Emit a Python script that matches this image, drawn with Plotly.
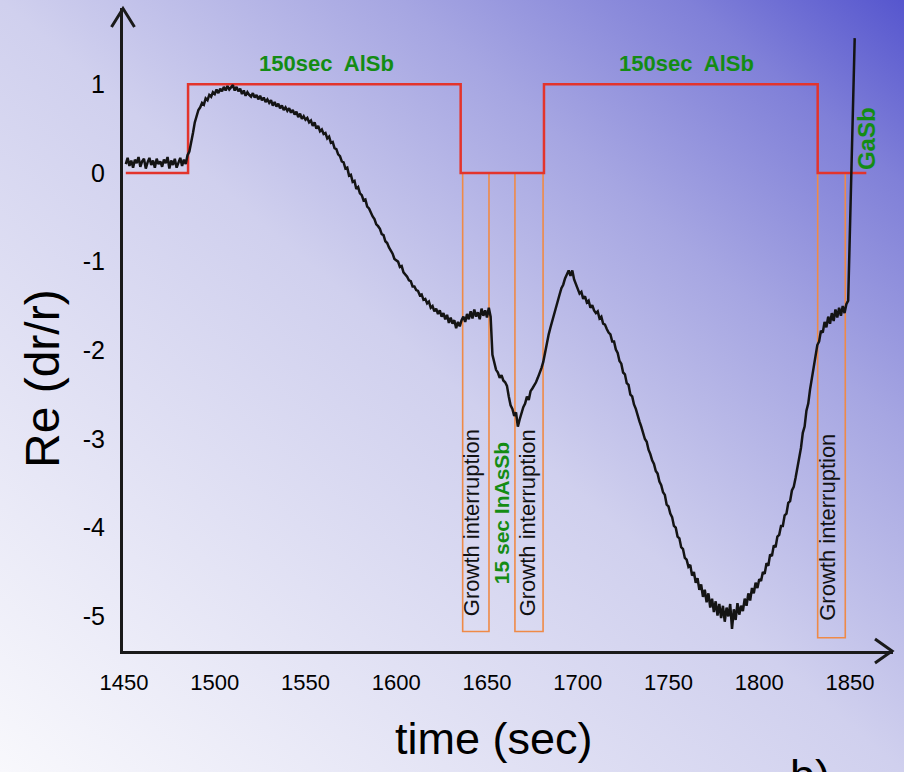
import base64
import plotly.graph_objects as go

# ---------------- data ----------------
# Reflectance-difference signal Re(dr/r), 1 s sampling; each phase lists (start time, values)
t_buffer = 1451
re_buffer = [0.10, 0.17, 0.08, 0.14, 0.06, 0.15, 0.11, 0.18, 0.07, 0.13,
             0.16, 0.05, 0.12, 0.17, 0.09, 0.14, 0.06, 0.16, 0.10, 0.13,
             0.07, 0.15, 0.11, 0.18, 0.05, 0.14, 0.09, 0.16, 0.06, 0.12]
t_alsb1 = 1481
re_alsb1 = [0.17, 0.08, 0.15, 0.10, 0.20, 0.24, 0.33, 0.45, 0.57, 0.64,
            0.71, 0.74, 0.79, 0.77, 0.84, 0.82, 0.88, 0.86, 0.91, 0.89,
            0.94, 0.90, 0.95, 0.92, 0.97, 0.93, 0.98, 0.94, 0.96, 0.99,
            0.93, 0.97, 0.92, 0.95, 0.89, 0.93, 0.87, 0.91, 0.88, 0.86,
            0.90, 0.85, 0.88, 0.83, 0.87, 0.82, 0.85, 0.80, 0.83, 0.79,
            0.82, 0.76, 0.80, 0.75, 0.78, 0.73, 0.76, 0.71, 0.74, 0.70,
            0.73, 0.68, 0.71, 0.66, 0.69, 0.63, 0.67, 0.61, 0.64, 0.60,
            0.62, 0.57, 0.59, 0.53, 0.57, 0.50, 0.53, 0.47, 0.49, 0.44,
            0.45, 0.39, 0.41, 0.34, 0.35, 0.28, 0.27, 0.21, 0.19, 0.13,
            0.12, 0.05, 0.06, -0.03, -0.02, -0.10, -0.09, -0.18, -0.16, -0.23,
            -0.25, -0.31, -0.30, -0.38, -0.40, -0.45, -0.49, -0.52, -0.58, -0.60,
            -0.63, -0.69, -0.70, -0.77, -0.79, -0.84, -0.88, -0.91, -0.97, -0.99,
            -1.00, -1.06, -1.05, -1.12, -1.14, -1.17, -1.21, -1.22, -1.28, -1.28,
            -1.32, -1.33, -1.38, -1.37, -1.43, -1.42, -1.47, -1.45, -1.52, -1.50,
            -1.56, -1.53, -1.59, -1.55, -1.62, -1.58, -1.65, -1.60, -1.69, -1.63,
            -1.70, -1.66, -1.75, -1.68, -1.73, -1.66]
t_gi1 = 1637
re_gi1 = [-1.62, -1.68, -1.59, -1.65,
          -1.56, -1.64, -1.54, -1.62, -1.57, -1.65, -1.53, -1.61, -1.55, -1.63,
          -1.52, -1.62]
t_inassb = 1653
re_inassb = [-2.05, -2.15, -2.22, -2.25, -2.31, -2.28, -2.34, -2.36,
             -2.40, -2.52, -2.62, -2.66, -2.74]
t_gi2 = 1666
re_gi2 = [-2.70, -2.86, -2.78, -2.70, -2.64,
          -2.60, -2.52, -2.56, -2.46, -2.43, -2.40, -2.36, -2.31, -2.26, -2.20,
          -2.13]
t_alsb2 = 1682
re_alsb2 = [-2.02, -1.90, -1.82, -1.74, -1.66, -1.60, -1.52, -1.44, -1.37,
            -1.30, -1.26, -1.19, -1.14, -1.10, -1.16, -1.10, -1.20, -1.26, -1.32,
            -1.36, -1.34, -1.42, -1.39, -1.46, -1.44, -1.52, -1.49, -1.55, -1.58,
            -1.56, -1.64, -1.62, -1.70, -1.71, -1.76, -1.80, -1.82, -1.90, -1.90,
            -1.99, -2.03, -2.12, -2.15, -2.25, -2.27, -2.37, -2.39, -2.50, -2.52,
            -2.61, -2.66, -2.74, -2.80, -2.86, -2.92, -3.00, -3.03, -3.12, -3.17,
            -3.24, -3.28, -3.36, -3.39, -3.48, -3.52, -3.60, -3.63, -3.74, -3.76,
            -3.84, -3.88, -3.98, -4.00, -4.10, -4.12, -4.22, -4.24, -4.34, -4.36,
            -4.44, -4.42, -4.54, -4.50, -4.62, -4.57, -4.70, -4.64, -4.78, -4.70,
            -4.84, -4.74, -4.90, -4.80, -4.95, -4.83, -4.99, -4.86, -5.02, -4.88,
            -5.06, -4.90, -5.00, -4.86, -5.14, -4.92, -5.04, -4.85, -4.98, -4.88,
            -4.94, -4.80, -4.88, -4.74, -4.82, -4.68, -4.74, -4.62, -4.68, -4.58,
            -4.60, -4.50, -4.52, -4.40, -4.43, -4.30, -4.32, -4.20, -4.22, -4.10,
            -4.08, -3.98, -3.98, -3.86, -3.84, -3.72, -3.70, -3.58, -3.54, -3.44,
            -3.33, -3.18, -3.10, -2.93, -2.86, -2.68, -2.60, -2.44, -2.32, -2.16,
            -2.06, -1.94]
t_gi3 = 1833
re_gi3 = [-1.90, -1.78, -1.80, -1.68, -1.74, -1.62, -1.70, -1.58,
          -1.67, -1.54, -1.63, -1.52, -1.61, -1.50, -1.58, -1.48, -1.44]
# GaSb onset (fast rise)
t_gasb = [1850, 1851, 1852, 1852.6]
re_gasb = [-0.55, 0.20, 1.00, 1.52]

# AlSb shutter (step signal)
shutter_t = [1451, 1485.3, 1635.5, 1681.4, 1832.2, 1859]
shutter_v = [0, 1, 0, 1, 0, 0]

# growth interruptions (start, end, bottom)
gi_start = [1636.6, 1665.4, 1832.2]
gi_end = [1651.1, 1680.9, 1847.4]
gi_bottom = [-5.17, -5.17, -5.24]

x_ticks = [1450, 1500, 1550, 1600, 1650, 1700, 1750, 1800, 1850]
y_ticks = [1, 0, -1, -2, -3, -4, -5]

# ---------------- layout geometry ----------------
W, H = 904, 772
PL, PR, PT, PB = 123, 893, 8, 651
XR = [1449.45, 1873.7]
YR = [-5.39, 1.86]


def px(x):
    return (x - PL) / (PR - PL)


def py(y):
    return (PB - y) / (PB - PT)


SANS = "Liberation Sans, Arial, sans-serif"
GREEN = "#148c14"
ORANGE = "#ef8a47"
RED = "#e3342c"

times, values = [], []
for t0, seg in [(t_buffer, re_buffer), (t_alsb1, re_alsb1), (t_gi1, re_gi1), (t_inassb, re_inassb),
                (t_gi2, re_gi2), (t_alsb2, re_alsb2), (t_gi3, re_gi3)]:
    times += [t0 + k for k in range(len(seg))]
    values += seg
times += t_gasb
values += re_gasb

fig = go.Figure()
fig.add_trace(go.Scatter(x=shutter_t, y=shutter_v, mode="lines", line=dict(color=RED, width=2.5, shape="hv"),
                         hoverinfo="skip"))
fig.add_trace(go.Scatter(x=times, y=values, mode="lines", line=dict(color="#141414", width=2.5)))

for s, e, b in zip(gi_start, gi_end, gi_bottom):
    fig.add_shape(type="rect", xref="x", yref="y", x0=s, x1=e, y0=b, y1=0,
                  line=dict(color=ORANGE, width=1.6), layer="below")

# arrowheads on axes
fig.add_shape(type="path", xref="paper", yref="paper",
              path=f"M {px(111.5)},{py(27)} L {px(123)},{py(8.5)} L {px(134.5)},{py(27)}",
              line=dict(color="#1a1a1a", width=3))
fig.add_shape(type="path", xref="paper", yref="paper",
              path=f"M {px(875)},{py(639)} L {px(892)},{py(651)} L {px(875)},{py(663)}",
              line=dict(color="#1a1a1a", width=3))

ann = []
for xc, label in [(1561.6, "150sec  AlSb"), (1760, "150sec  AlSb")]:
    ann.append(dict(x=xc, y=1.23, xref="x", yref="y", text=f"<b>{label}</b>", showarrow=False,
                    font=dict(family=SANS, size=22, color=GREEN)))
for xc, yc in [(1641.6, -3.94), (1672, -3.94), (1837.9, -4.0)]:
    ann.append(dict(x=xc, y=yc, xref="x", yref="y", text="Growth interruption", showarrow=False, textangle=-90,
                    font=dict(family=SANS, size=22, color="#111111")))
ann.append(dict(x=1658.1, y=-3.84, xref="x", yref="y", text="<b>15 sec InAsSb</b>", showarrow=False,
                textangle=-90, font=dict(family=SANS, size=21, color=GREEN)))
ann.append(dict(x=1859.2, y=0.39, xref="x", yref="y", text="<b>GaSb</b>", showarrow=False,
                textangle=-90, font=dict(family=SANS, size=24, color=GREEN)))
ann.append(dict(x=px(494), y=py(738), xref="paper", yref="paper", xanchor="center", yanchor="middle",
                text="time (sec)", showarrow=False, font=dict(family=SANS, size=45, color="#000000")))
ann.append(dict(x=px(43), y=py(379), xref="paper", yref="paper", xanchor="center", yanchor="middle",
                text="Re (dr/r)", showarrow=False, textangle=-90,
                font=dict(family=SANS, size=48, color="#000000")))
ann.append(dict(x=px(810), y=py(775), xref="paper", yref="paper", xanchor="center", yanchor="middle",
                text="b)", showarrow=False, font=dict(family=SANS, size=45, color="#000000")))

svg = ('<svg xmlns="http://www.w3.org/2000/svg" width="904" height="772" viewBox="0 0 904 772" '
       'preserveAspectRatio="none"><defs><linearGradient id="g" x1="0" y1="1" x2="1" y2="0">'
       '<stop offset="0" stop-color="#f8f8fc"/><stop offset="0.5" stop-color="#d0d0ee"/>'
       '<stop offset="0.72" stop-color="#a6a6e2"/><stop offset="0.88" stop-color="#8080d8"/>'
       '<stop offset="1" stop-color="#5656ce"/></linearGradient></defs>'
       '<rect width="904" height="772" fill="url(#g)"/></svg>')
src = "data:image/svg+xml;base64," + base64.b64encode(svg.encode()).decode()

fig.update_layout(
    width=W, height=H,
    margin=dict(l=PL, r=W - PR, t=PT, b=H - PB, pad=0),
    paper_bgcolor="rgba(0,0,0,0)", plot_bgcolor="rgba(0,0,0,0)",
    showlegend=False,
    annotations=ann,
    images=[dict(source=src, xref="paper", yref="paper", x=px(0), y=py(0), sizex=W / (PR - PL),
                 sizey=H / (PB - PT), xanchor="left", yanchor="top", sizing="stretch", layer="below")],
    xaxis=dict(range=XR, tickvals=x_ticks, ticktext=[str(v) for v in x_ticks], showgrid=False, zeroline=False,
               showline=True, linecolor="#1a1a1a", linewidth=3, ticks="outside", ticklen=10,
               tickcolor="rgba(0,0,0,0)", tickfont=dict(family=SANS, size=22, color="#000000"),
               fixedrange=True),
    yaxis=dict(range=YR, tickvals=y_ticks, ticktext=[str(v) for v in y_ticks], showgrid=False, zeroline=False,
               showline=True, linecolor="#1a1a1a", linewidth=3, ticks="outside", ticklen=10,
               tickcolor="rgba(0,0,0,0)", tickfont=dict(family=SANS, size=25, color="#000000"),
               fixedrange=True),
)

fig.write_html("out.html", config={"displayModeBar": False},
               post_script="document.body.style.margin='0';")
